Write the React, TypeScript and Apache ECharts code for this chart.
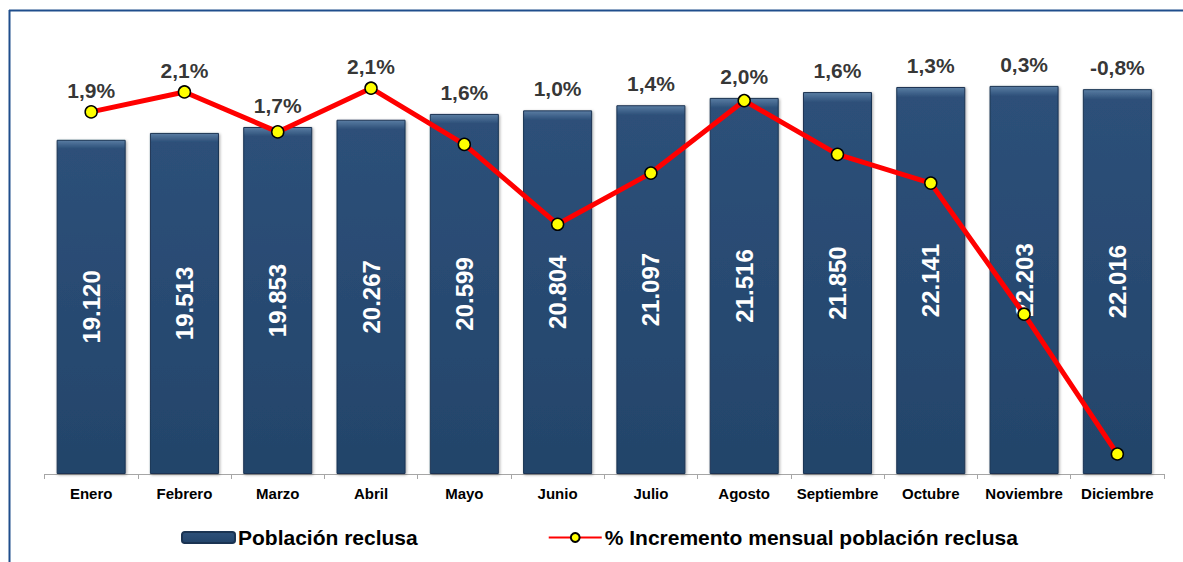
import React, { useEffect, useRef } from "react";
import * as echarts from "echarts";

const months = ["Enero", "Febrero", "Marzo", "Abril", "Mayo", "Junio", "Julio", "Agosto", "Septiembre", "Octubre", "Noviembre", "Diciembre"];
const poblacion = [19120, 19513, 19853, 20267, 20599, 20804, 21097, 21516, 21850, 22141, 22203, 22016];
const incremento = [1.9, 2.06, 1.74, 2.09, 1.64, 1.0, 1.41, 1.99, 1.56, 1.33, 0.28, -0.84];

const Y1_MAX = 25000;
const Y2_MIN = -1;
const Y2_MAX = 2.5;

const fmtThousands = (v: number) => String(v).replace(/\B(?=(\d{3})+(?!\d))/g, ".");
const fmtPct = (v: number) => v.toFixed(1).replace(".", ",") + "%";

export default function App() {
  const ref = useRef<HTMLDivElement>(null);
  useEffect(() => {
    const chart = echarts.init(ref.current!, null, { renderer: "svg" });
    // label anchors: above whichever is higher, the bar top or the line point (in primary-axis units)
    const labelAnchor = poblacion.map((b, i) =>
      Math.max(b, ((incremento[i] - Y2_MIN) / (Y2_MAX - Y2_MIN)) * Y1_MAX)
    );
    const font = "Liberation Sans, Arial, sans-serif";
    chart.setOption({
      animation: false,
      textStyle: { fontFamily: font },
      grid: { left: 44.5, right: 19, top: 37, bottom: 88 },
      graphic: [
        { type: "line", shape: { x1: 9, y1: 10.5, x2: 1183, y2: 10.5 }, style: { stroke: "#1F4E8C", lineWidth: 2 } },
        { type: "line", shape: { x1: 9.5, y1: 10, x2: 9.5, y2: 562 }, style: { stroke: "#1F4E8C", lineWidth: 2 } },
      ],
      legend: {
        left: 176,
        bottom: 9,
        data: ["Población reclusa", "% Incremento mensual población reclusa"],
        itemGap: 130,
        itemWidth: 53,
        itemHeight: 11,
        textStyle: { fontSize: 21, fontWeight: "bold", color: "#000", fontFamily: font, padding: [0, 0, 0, -2] },
      },
      xAxis: {
        type: "category",
        data: months,
        axisLine: { show: true, lineStyle: { color: "#A6A6A6", width: 1 } },
        axisTick: { show: true, alignWithLabel: false, length: 5, lineStyle: { color: "#A6A6A6" } },
        axisLabel: { color: "#000", fontWeight: "bold", fontSize: 15, margin: 12, interval: 0, fontFamily: font },
      },
      yAxis: [
        { type: "value", min: 0, max: Y1_MAX, show: false, splitLine: { show: false } },
        { type: "value", min: Y2_MIN, max: Y2_MAX, show: false, splitLine: { show: false } },
      ],
      series: [
        {
          name: "Población reclusa",
          type: "bar",
          data: poblacion,
          barCategoryGap: "26%",
          itemStyle: {
            color: {
              type: "linear", x: 0, y: 0, x2: 0, y2: 1,
              colorStops: [
                { offset: 0, color: "#5A7DA3" },
                { offset: 0.025, color: "#2D5079" },
                { offset: 1, color: "#23446A" },
              ],
            },
            borderColor: "#1A3352",
            borderWidth: 1,
            shadowColor: "rgba(0,0,0,0.35)",
            shadowBlur: 3,
            shadowOffsetX: 1,
            shadowOffsetY: 1,
          },
          label: {
            show: true,
            position: "inside",
            rotate: 90,
            color: "#fff",
            fontSize: 24,
            fontWeight: "bold",
            fontFamily: font,
            formatter: (p: any) => fmtThousands(p.value),
          },
        },
        {
          name: "% Incremento mensual población reclusa",
          type: "line",
          yAxisIndex: 1,
          data: incremento,
          symbol: "circle",
          symbolSize: 12,
          lineStyle: { color: "#FF0000", width: 5 },
          itemStyle: { color: "#FFFF00", borderColor: "#000", borderWidth: 1.5 },
          z: 5,
        },
        {
          name: "labels",
          type: "scatter",
          data: labelAnchor,
          symbolSize: 0,
          silent: true,
          label: {
            show: true,
            position: "top",
            distance: 11,
            color: "#000",
            fontSize: 21,
            fontWeight: "bold",
            fontFamily: font,
            formatter: (p: any) => fmtPct(incremento[p.dataIndex]),
          },
          z: 6,
        },
      ],
    });
    return () => chart.dispose();
  }, []);
  return (
    <div style={{ position: "fixed", left: 0, top: 0, width: 1183, height: 562, background: "#fff" }}>
      <div ref={ref} style={{ width: 1183, height: 562 }} />
    </div>
  );
}
